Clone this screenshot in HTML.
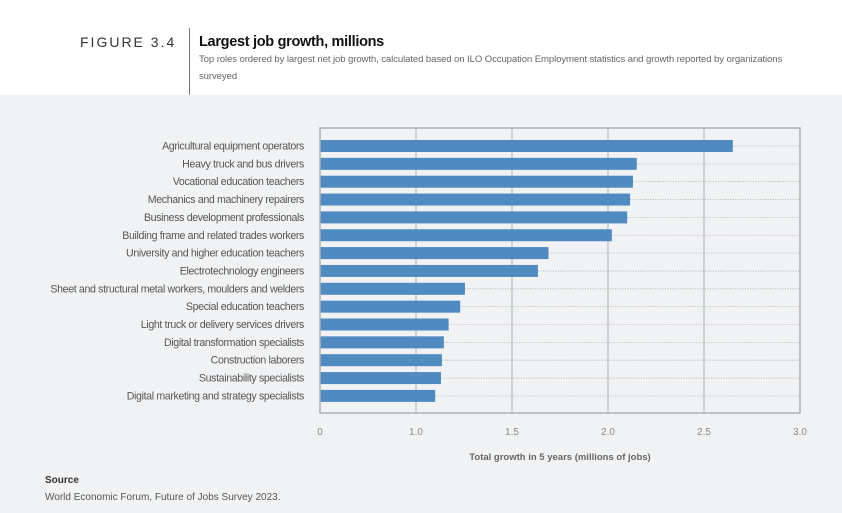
<!DOCTYPE html>
<html><head><meta charset="utf-8"><style>
body{margin:0;width:842px;height:513px;overflow:hidden;background:#fff;font-family:"Liberation Sans",sans-serif;}
#bg{position:absolute;left:0;top:95px;width:842px;height:418px;background:#f1f2f3;}
.t{position:absolute;white-space:nowrap;}
</style></head><body>
<div id="bg"></div>
<div class="t" style="left:80px;top:34px;font-size:14px;letter-spacing:2px;color:#333;">FIGURE 3.4</div>
<div style="position:absolute;left:189px;top:28px;width:1px;height:67px;background:#777;"></div>
<div class="t" style="left:199px;top:34px;font-size:14.5px;font-weight:bold;color:#111;letter-spacing:-0.3px;">Largest job growth, millions</div>
<div class="t" style="left:199px;top:51px;font-size:9.6px;color:#666;line-height:17px;letter-spacing:-0.11px;">Top roles ordered by largest net job growth, calculated based on ILO Occupation Employment statistics and growth reported by organizations<br>surveyed</div>
<svg id="chart" width="842" height="513" style="position:absolute;left:0;top:0"></svg>
<div class="t" style="left:45px;top:475px;font-size:10px;font-weight:bold;color:#333;">Source</div>
<div class="t" style="left:45px;top:492px;font-size:10px;color:#555;">World Economic Forum, Future of Jobs Survey 2023.</div>
<script>
const categories=["Agricultural equipment operators","Heavy truck and bus drivers","Vocational education teachers","Mechanics and machinery repairers","Business development professionals","Building frame and related trades workers","University and higher education teachers","Electrotechnology engineers","Sheet and structural metal workers, moulders and welders","Special education teachers","Light truck or delivery services drivers","Digital transformation specialists","Construction laborers","Sustainability specialists","Digital marketing and strategy specialists"];
const values=[2.65,2.15,2.13,2.115,2.10,2.02,1.69,1.635,1.255,1.23,1.17,1.145,1.135,1.13,1.10];
const tickValues=[0.5,1.0,1.5,2.0,2.5,3.0];
const tickLabels=["0","1.0","1.5","2.0","2.5","3.0"];
const NS="http://www.w3.org/2000/svg";
const svg=document.getElementById('chart');
const L=320,R=800,T=128,B=413,xmin=0.5,xmax=3.0;
const x=v=>L+(v-xmin)/(xmax-xmin)*(R-L);
const y0=146,step=17.85;
const y=i=>y0+i*step;
function mk(tag,attrs){const e=document.createElementNS(NS,tag);for(const k in attrs)e.setAttribute(k,attrs[k]);svg.appendChild(e);return e;}
tickValues.forEach((v,i)=>{
  if(i>0&&i<tickValues.length-1){const g=mk('line',{x1:x(v),x2:x(v),y1:T,y2:B,stroke:'#c4c6c8','stroke-width':1.5});
  
  }
  const t=mk('text',{x:x(v),y:435,'text-anchor':'middle','font-size':10,fill:'#888','font-family':'Liberation Sans, sans-serif'});
  t.textContent=tickLabels[i];
  
  
});
categories.forEach((c,i)=>{
  const cy=y(i);
  const d=mk('line',{x1:x(values[i]),x2:R,y1:cy,y2:cy,stroke:'#aaa','stroke-width':0.8,'stroke-dasharray':'1,1.5'});
  
  
  const b=mk('rect',{x:L,y:cy-6,width:x(values[i])-L,height:12,fill:'#4f8bc1'});
  
  
  const t=mk('text',{x:304,y:cy+3.5,'text-anchor':'end','font-size':10.6,fill:'#555','letter-spacing':'-0.35','font-family':'Liberation Sans, sans-serif'});
  t.textContent=c;
  
  
});
const f=mk('rect',{x:L,y:T,width:R-L,height:B-T,fill:'none',stroke:'#aeb0b2','stroke-width':1.5});


const xt=mk('text',{x:560,y:460,'text-anchor':'middle','font-size':9.5,'font-weight':'bold',fill:'#666','font-family':'Liberation Sans, sans-serif'});
xt.textContent='Total growth in 5 years (millions of jobs)';


</script>
</body></html>
